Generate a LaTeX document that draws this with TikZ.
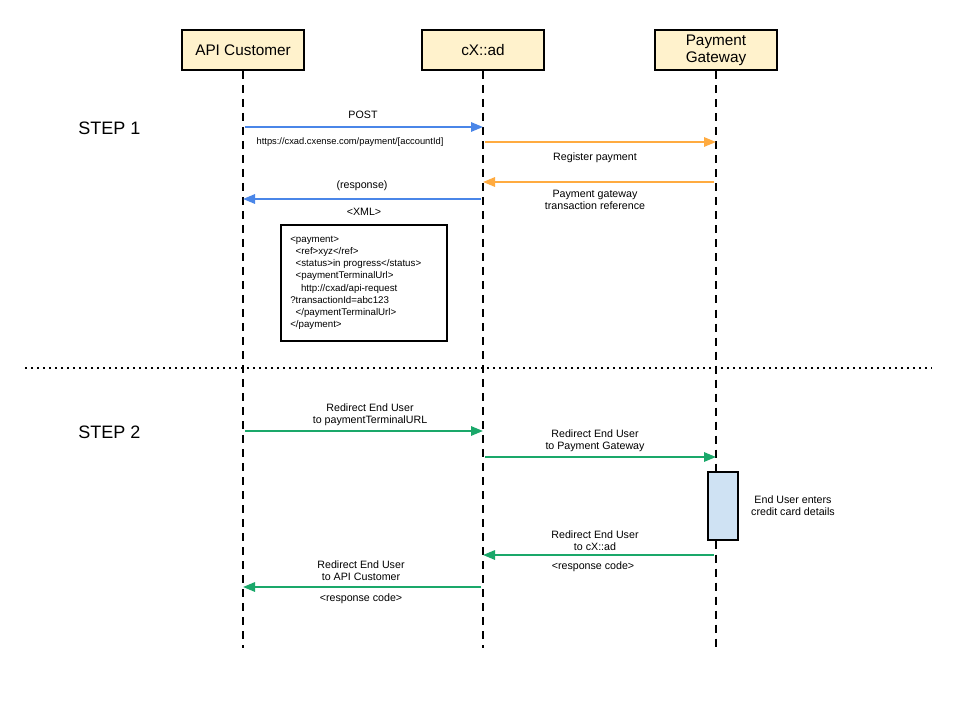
\documentclass[tikz,border=0pt]{standalone}
\usepackage{fontspec}
\setmainfont{Liberation Sans}
\usetikzlibrary{arrows.meta}
\definecolor{boxfill}{HTML}{FFF2CC}
\definecolor{actfill}{HTML}{CFE2F3}
\definecolor{msgblue}{HTML}{4A86E8}
\definecolor{msgorange}{HTML}{FFAB40}
\definecolor{msggreen}{HTML}{1AA86A}
\begin{document}
\begin{tikzpicture}[x=0.75pt,y=-0.75pt,
  actor/.style={draw=black,line width=1.5pt,fill=boxfill,minimum width=91pt,minimum height=30pt,inner sep=0pt,align=center,font=\fontsize{11.5}{13}\selectfont},
  life/.style={line width=1.5pt,dash pattern=on 6pt off 4.5pt},
  msg/.style={line width=1.5pt,-{Triangle[length=9pt,width=7pt]}},
  lbl/.style={font=\fontsize{8}{9}\selectfont,align=center,inner sep=0pt},
  steplbl/.style={anchor=west,font=\fontsize{13.5}{15}\selectfont,inner sep=0pt},
  actbox/.style={draw=black,line width=1.5pt,fill=actfill,minimum width=23pt,minimum height=51pt,inner sep=0pt}]
\useasboundingbox (0,0) rectangle (960,720);
% actors
\node[actor] (cust) at (243,50) {API Customer};
\node[actor] (cxad) at (483,50) {cX::ad};
\node[actor] (pg) at (716,50.5) {Payment\\Gateway};
% lifeline ends
\coordinate (custE) at (243,648);
\coordinate (cxadE) at (483,648);
\coordinate (pgE) at (716,648);
% activation
\node[actbox] (act) at (723,505.5) {};
\draw[life] (cust.south) -- (custE);
\draw[life] (cxad.south) -- (cxadE);
\draw[life] (pg.south) -- (act.north -| pg.south);
\draw[life] (act.south -| pg.south) -- (pgE);
\node[actbox] at (act) {};
% step labels
\node[steplbl] (s1) at (78,128) {STEP 1};
\node[steplbl] (s2) at (78,432) {STEP 2};
% separator
\coordinate (sepL) at (25,368);
\coordinate (sepR) at (932,368);
\draw[line width=1.5pt,dash pattern=on 1.5pt off 3pt] (sepL) -- (sepR);
% message endpoints
\coordinate (m1a) at (245,127); \coordinate (m1b) at (483,127);
\coordinate (m2a) at (485,142); \coordinate (m2b) at (716,142);
\coordinate (m3a) at (714,182); \coordinate (m3b) at (483,182);
\coordinate (m4a) at (481,199); \coordinate (m4b) at (243,199);
\coordinate (m5a) at (245,431); \coordinate (m5b) at (483,431);
\coordinate (m6a) at (485,457); \coordinate (m6b) at (716,457);
\coordinate (m7a) at (714,555); \coordinate (m7b) at (483,555);
\coordinate (m8a) at (481,587); \coordinate (m8b) at (243,587);
\draw[msg,msgblue] (m1a) -- (m1b);
\draw[msg,msgorange] (m2a) -- (m2b);
\draw[msg,msgorange] (m3a) -- (m3b);
\draw[msg,msgblue] (m4a) -- (m4b);
\draw[msg,msggreen] (m5a) -- (m5b);
\draw[msg,msggreen] (m6a) -- (m6b);
\draw[msg,msggreen] (m7a) -- (m7b);
\draw[msg,msggreen] (m8a) -- (m8b);
% labels
\node[lbl] (l1) at (363,115) {POST};
\node[lbl,font=\fontsize{7}{8}\selectfont] (l2) at (350,142) {https://cxad.cxense.com/payment/[accountId]};
\node[lbl] (l3) at (595,158) {Register payment};
\node[lbl] (l4) at (595,200) {Payment gateway\\transaction reference};
\node[lbl] (l5) at (362,186) {(response)};
\node[lbl] (l6) at (364,212) {<XML>};
\node[draw=black,line width=1.5pt,minimum width=124.5pt,minimum height=87pt,inner sep=0pt] (xml) at (364,283) {};
\node[lbl,anchor=north west,align=left,font=\fontsize{7.3}{9.1}\selectfont] (xmltxt) at (290,236) {<payment>\\
\ \ <ref>xyz</ref>\\
\ \ <status>in progress</status>\\
\ \ <paymentTerminalUrl>\\
\ \ \ \ http://cxad/api-request\\
?transactionId=abc123\\
\ \ </paymentTerminalUrl>\\
</payment>};
\node[lbl] (l7) at (370,415) {Redirect End User\\to paymentTerminalURL};
\node[lbl] (l8) at (595,441) {Redirect End User\\to Payment Gateway};
\node[lbl] (l9) at (793,506) {End User enters\\credit card details};
\node[lbl] (l10) at (595,541) {Redirect End User\\to cX::ad};
\node[lbl] (l11) at (593,567) {<response code>};
\node[lbl] (l12) at (361,571) {Redirect End User\\to API Customer};
\node[lbl] (l13) at (361,599) {<response code>};
\end{tikzpicture}
\end{document}
